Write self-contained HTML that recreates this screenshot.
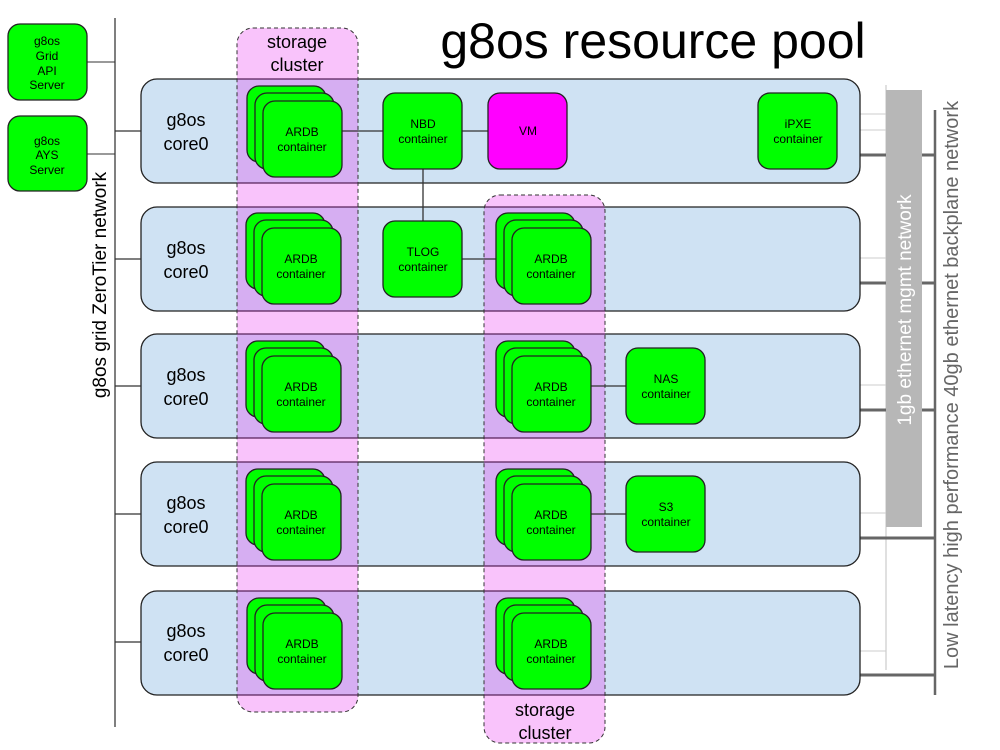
<!DOCTYPE html>
<html><head><style>body{margin:0;background:#fff}svg{display:block}text{font-family:"Liberation Sans",sans-serif}</style></head><body>
<svg width="1000" height="750" viewBox="0 0 1000 750" xmlns="http://www.w3.org/2000/svg">
<defs>
<g id="stack">
<rect x="0" y="0" width="79" height="76" rx="12" fill="#00ff00" stroke="#222" stroke-width="1.3"/>
<rect x="8" y="7" width="79" height="76" rx="12" fill="#00ff00" stroke="#222" stroke-width="1.3"/>
<rect x="16" y="15" width="79" height="76" rx="12" fill="#00ff00" stroke="#222" stroke-width="1.3"/>
<text x="55" y="50" font-size="12" text-anchor="middle">ARDB</text>
<text x="55" y="65" font-size="12" text-anchor="middle">container</text>
</g>
</defs>
<text x="653" y="58" font-size="50" text-anchor="middle">g8os resource pool</text>
<line x1="115" y1="18" x2="115" y2="727" stroke="#555" stroke-width="1.5"/>
<text transform="translate(106,285) rotate(-90)" font-size="19" text-anchor="middle">g8os grid ZeroTier network</text>
<line x1="87" y1="62" x2="115" y2="62" stroke="#333"/>
<line x1="87" y1="154" x2="115" y2="154" stroke="#333"/>
<rect x="8" y="24" width="79" height="76" rx="12" fill="#00ff00" stroke="#222" stroke-width="1.3"/>
<text font-size="12" text-anchor="middle"><tspan x="47" y="45">g8os</tspan><tspan x="47" y="60">Grid</tspan><tspan x="47" y="75">API</tspan><tspan x="47" y="89">Server</tspan></text>
<rect x="8" y="116" width="79" height="75" rx="12" fill="#00ff00" stroke="#222" stroke-width="1.3"/>
<text font-size="12" text-anchor="middle"><tspan x="47" y="145">g8os</tspan><tspan x="47" y="159">AYS</tspan><tspan x="47" y="174">Server</tspan></text>
<line x1="886" y1="85" x2="886" y2="670" stroke="#ccc" stroke-width="1.2"/>
<line x1="935" y1="110" x2="935" y2="695" stroke="#666" stroke-width="2.5"/>
<text transform="translate(958,385) rotate(-90)" font-size="20" fill="#666" text-anchor="middle">Low latency high performance 40gb ethernet backplane network</text>
<g stroke="#666" stroke-width="3">
<line x1="860" y1="155" x2="935" y2="155"/><line x1="860" y1="283" x2="935" y2="283"/><line x1="860" y1="410" x2="935" y2="410"/><line x1="860" y1="538" x2="935" y2="538"/><line x1="860" y1="675" x2="935" y2="675"/>
</g>
<rect x="886" y="90" width="36" height="437" fill="#b7b7b7"/>
<text transform="translate(911,310) rotate(-90)" font-size="19" fill="#fff" text-anchor="middle">1gb ethernet mgmt network</text>
<g stroke="#ccc" stroke-width="1">
<line x1="837" y1="114" x2="886" y2="114"/><line x1="860" y1="130" x2="886" y2="130"/><line x1="860" y1="258" x2="886" y2="258"/><line x1="860" y1="385" x2="886" y2="385"/><line x1="860" y1="513" x2="886" y2="513"/><line x1="860" y1="651" x2="886" y2="651"/>
</g>
<g fill="#cfe2f3" stroke="#222" stroke-width="1.3">
<rect x="141" y="79" width="719" height="104" rx="16"/>
<rect x="141" y="207" width="719" height="104" rx="16"/>
<rect x="141" y="334" width="719" height="104" rx="16"/>
<rect x="141" y="462" width="719" height="104" rx="16"/>
<rect x="141" y="591" width="719" height="104" rx="16"/>
</g>
<g stroke="#333" stroke-width="1.3">
<line x1="115" y1="131" x2="141" y2="131"/><line x1="115" y1="259" x2="141" y2="259"/><line x1="115" y1="386" x2="141" y2="386"/><line x1="115" y1="514" x2="141" y2="514"/><line x1="115" y1="642" x2="141" y2="642"/>
</g>
<g font-size="18" text-anchor="middle">
<text x="186" y="126">g8os</text><text x="186" y="150">core0</text>
<text x="186" y="254">g8os</text><text x="186" y="278">core0</text>
<text x="186" y="381">g8os</text><text x="186" y="405">core0</text>
<text x="186" y="509">g8os</text><text x="186" y="533">core0</text>
<text x="186" y="637">g8os</text><text x="186" y="661">core0</text>
</g>
<rect x="237" y="28" width="121" height="684" rx="16" fill="rgba(233,33,241,0.27)" stroke="#333" stroke-dasharray="4,3"/>
<rect x="484" y="195" width="121" height="548" rx="16" fill="rgba(233,33,241,0.27)" stroke="#333" stroke-dasharray="4,3"/>
<text font-size="18" text-anchor="middle"><tspan x="297" y="48">storage</tspan><tspan x="297" y="71">cluster</tspan></text>
<text font-size="18" text-anchor="middle"><tspan x="545" y="716">storage</tspan><tspan x="545" y="739">cluster</tspan></text>
<g stroke="#333" stroke-width="1.3">
<line x1="341" y1="131" x2="383" y2="131"/>
<line x1="462" y1="131" x2="488" y2="131"/>
<line x1="423" y1="169" x2="423" y2="221"/>
<line x1="462" y1="259" x2="496" y2="259"/>
<line x1="591" y1="386" x2="626" y2="386"/>
<line x1="591" y1="514" x2="626" y2="514"/>
</g>
<use href="#stack" x="247" y="86"/>
<use href="#stack" x="246" y="213"/>
<use href="#stack" x="246" y="341"/>
<use href="#stack" x="246" y="469"/>
<use href="#stack" x="247" y="598"/>
<use href="#stack" x="496" y="213"/>
<use href="#stack" x="496" y="341"/>
<use href="#stack" x="496" y="469"/>
<use href="#stack" x="496" y="598"/>
<g stroke="#222" stroke-width="1.3">
<rect x="383" y="93" width="79" height="76" rx="12" fill="#00ff00"/>
<rect x="488" y="93" width="79" height="76" rx="12" fill="#ff00ff"/>
<rect x="758" y="93" width="79" height="76" rx="12" fill="#00ff00"/>
<rect x="383" y="221" width="79" height="76" rx="12" fill="#00ff00"/>
<rect x="626" y="348" width="79" height="76" rx="12" fill="#00ff00"/>
<rect x="626" y="476" width="79" height="76" rx="12" fill="#00ff00"/>
</g>
<g font-size="12" text-anchor="middle">
<text x="423" y="128">NBD</text><text x="423" y="143">container</text>
<text x="528" y="135">VM</text>
<text x="798" y="128">iPXE</text><text x="798" y="143">container</text>
<text x="423" y="256">TLOG</text><text x="423" y="271">container</text>
<text x="666" y="383">NAS</text><text x="666" y="398">container</text>
<text x="666" y="511">S3</text><text x="666" y="526">container</text>
</g>
</svg>
</body></html>
